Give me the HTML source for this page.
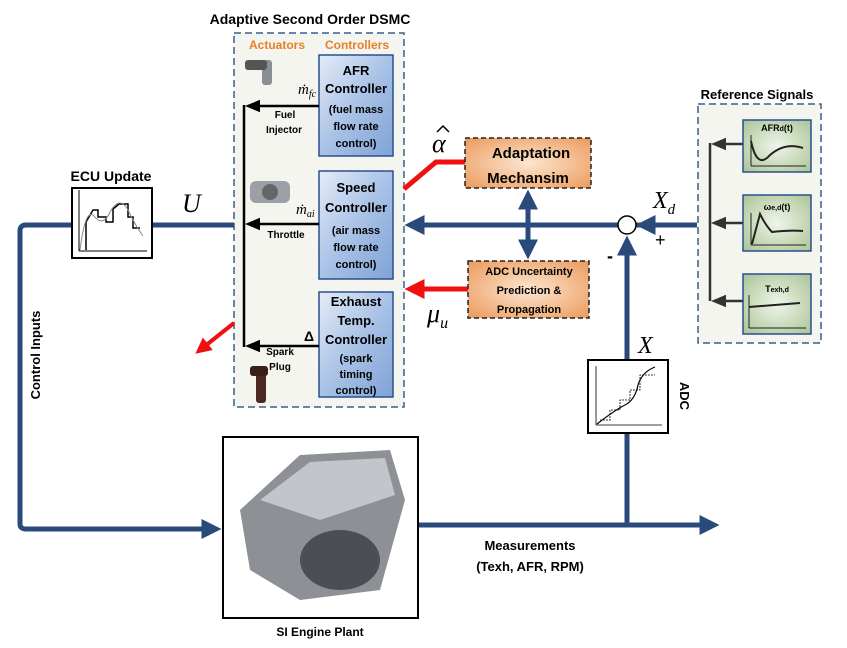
<!DOCTYPE html>
<html><head><meta charset="utf-8"><style>
html,body{margin:0;padding:0;background:#fff;}
svg{display:block;font-family:"Liberation Sans",sans-serif;}
.b{font-weight:bold;}
</style></head><body>
<svg width="847" height="648" viewBox="0 0 847 648" xmlns="http://www.w3.org/2000/svg">
<defs>
<linearGradient id="bl" x1="0" y1="0" x2="1" y2="1"><stop offset="0" stop-color="#e4ecf8"/><stop offset="0.5" stop-color="#a9c2e6"/><stop offset="1" stop-color="#7fa2d6"/></linearGradient>
<radialGradient id="or" cx="0.5" cy="0.5" r="0.7"><stop offset="0" stop-color="#fde6d0"/><stop offset="1" stop-color="#eb9a5c"/></radialGradient>
<radialGradient id="gr" cx="0.5" cy="0.5" r="0.7"><stop offset="0" stop-color="#f0f5ea"/><stop offset="1" stop-color="#a9c494"/></radialGradient>
<marker id="ab" markerWidth="4" markerHeight="4" refX="2.5" refY="2" orient="auto-start-reverse" markerUnits="strokeWidth"><path d="M0,0 L4,2 L0,4 z" fill="#2b4a7c"/></marker>
<marker id="ak" markerWidth="6" markerHeight="6" refX="4" refY="3" orient="auto" markerUnits="strokeWidth"><path d="M0,0.5 L6,3 L0,5.5 z" fill="#000"/></marker>
<marker id="ar" markerWidth="4" markerHeight="4" refX="2.5" refY="2" orient="auto" markerUnits="strokeWidth"><path d="M0,0 L4,2 L0,4 z" fill="#f01010"/></marker>
<marker id="ag" markerWidth="6" markerHeight="6" refX="4" refY="3" orient="auto" markerUnits="strokeWidth"><path d="M0,0.5 L6,3 L0,5.5 z" fill="#333"/></marker>
</defs>

<rect x="234" y="33" width="170" height="374" fill="#f3f5ee" stroke="#3a5f90" stroke-width="1.5" stroke-dasharray="7,4"/>
<text x="310" y="24" class="b" font-size="14" text-anchor="middle">Adaptive Second Order DSMC</text>
<text x="277" y="49" class="b" font-size="12" fill="#e8802a" text-anchor="middle">Actuators</text>
<text x="357" y="49" class="b" font-size="12" fill="#e8802a" text-anchor="middle">Controllers</text>

<g stroke="#2a4f8f" stroke-width="1.5" fill="url(#bl)">
<rect x="319" y="55" width="74" height="101"/>
<rect x="319" y="171" width="74" height="108"/>
<rect x="319" y="292" width="74" height="105"/>
</g>
<g class="b" font-size="13" text-anchor="middle">
<text x="356" y="75">AFR</text><text x="356" y="93">Controller</text>
<text x="356" y="192">Speed</text><text x="356" y="212">Controller</text>
<text x="356" y="306">Exhaust</text><text x="356" y="325">Temp.</text><text x="356" y="344">Controller</text>
</g>
<g class="b" font-size="11" text-anchor="middle">
<text x="356" y="113">(fuel mass</text><text x="356" y="130">flow rate</text><text x="356" y="147">control)</text>
<text x="356" y="234">(air mass</text><text x="356" y="251">flow rate</text><text x="356" y="268">control)</text>
<text x="356" y="362">(spark</text><text x="356" y="378">timing</text><text x="356" y="394">control)</text>
</g>
<line x1="244" y1="105" x2="244" y2="347" stroke="#000" stroke-width="2.5"/>
<g stroke="#000" stroke-width="2.5" marker-end="url(#ak)">
<line x1="319" y1="106" x2="250" y2="106"/>
<line x1="319" y1="224" x2="250" y2="224"/>
<line x1="319" y1="346" x2="250" y2="346"/>
</g>
<g class="b" font-size="10" text-anchor="middle">
<text x="285" y="118">Fuel</text><text x="284" y="133">Injector</text>
<text x="286" y="238">Throttle</text>
<text x="280" y="355">Spark</text><text x="280" y="370">Plug</text>
</g>
<text x="309" y="341" class="b" font-size="14" text-anchor="middle">Δ</text>
<text x="298" y="94" font-family="Liberation Serif" font-style="italic" font-size="15">ṁ<tspan font-size="10" dy="3">fc</tspan></text>
<text x="296" y="214" font-family="Liberation Serif" font-style="italic" font-size="15">ṁ<tspan font-size="10" dy="3">ai</tspan></text>
<g fill="#8a8f96"><rect x="262" y="60" width="10" height="25" rx="3"/><rect x="245" y="60" width="22" height="10" rx="3" fill="#555"/></g>
<rect x="250" y="181" width="40" height="22" rx="6" fill="#9aa0a6"/><circle cx="270" cy="192" r="8" fill="#666"/>
<rect x="256" y="373" width="10" height="30" rx="3" fill="#4a2a22"/><rect x="250" y="366" width="18" height="10" rx="3" fill="#3a2018"/>

<g stroke="#2b4a7c" stroke-width="5" fill="none">
<path d="M697,225 L636,225"/>
<path d="M618,225 L412,225" marker-end="url(#ab)"/>
<path d="M234,225 L152,225"/>
<path d="M72,225 L26,225 Q20,225 20,231 L20,524 Q20,529 26,529 L214,529" marker-end="url(#ab)"/>
<path d="M418,525 L712,525" marker-end="url(#ab)"/>
<path d="M627,525 L627,433"/>
<path d="M627,360 L627,243" marker-end="url(#ab)"/>
<path d="M528,197 L528,252" marker-start="url(#ab)" marker-end="url(#ab)"/>
</g>
<path d="M690,225 L643,225" stroke="#2b4a7c" stroke-width="5" marker-end="url(#ab)"/>
<circle cx="627" cy="225" r="9" fill="#fff" stroke="#000" stroke-width="1.5"/>
<text x="655" y="246" font-size="18">+</text>
<text x="607" y="262" class="b" font-size="18">-</text>
<text x="653" y="208" font-family="Liberation Serif" font-style="italic" font-size="24">X<tspan font-size="15" dy="6">d</tspan></text>
<text x="638" y="353" font-family="Liberation Serif" font-style="italic" font-size="24">X</text>
<text x="182" y="212" font-family="Liberation Serif" font-style="italic" font-size="26">U</text>

<path d="M404,189 L436,162 L466,162" stroke="#f01010" stroke-width="5" fill="none"/>
<path d="M468,289 L412,289" stroke="#f01010" stroke-width="5" marker-end="url(#ar)"/>
<path d="M234,323 L200,350" stroke="#f01010" stroke-width="4" marker-end="url(#ar)"/>
<text x="432" y="152" font-family="Liberation Serif" font-style="italic" font-size="26">α</text>
<path d="M437,132 L443,126 L449,132" stroke="#000" stroke-width="1.5" fill="none"/>
<text x="427" y="322" font-family="Liberation Serif" font-style="italic" font-size="26">μ<tspan font-size="16" dy="6">u</tspan></text>

<rect x="465" y="138" width="126" height="50" fill="url(#or)" stroke="#222" stroke-width="1.5" stroke-dasharray="5,3"/>
<text x="531" y="158" class="b" font-size="15" text-anchor="middle">Adaptation</text>
<text x="528" y="183" class="b" font-size="15" text-anchor="middle">Mechansim</text>
<rect x="468" y="261" width="121" height="57" fill="url(#or)" stroke="#222" stroke-width="1.5" stroke-dasharray="5,3"/>
<text x="529" y="275" class="b" font-size="11" text-anchor="middle">ADC Uncertainty</text>
<text x="529" y="294" class="b" font-size="11" text-anchor="middle">Prediction &amp;</text>
<text x="529" y="313" class="b" font-size="11" text-anchor="middle">Propagation</text>

<text x="757" y="99" class="b" font-size="13" text-anchor="middle">Reference Signals</text>
<rect x="698" y="104" width="123" height="239" fill="#f3f5ee" stroke="#3a5f90" stroke-width="1.5" stroke-dasharray="7,4"/>
<line x1="710" y1="143" x2="710" y2="301" stroke="#333" stroke-width="2.5"/>
<g stroke="#333" stroke-width="2.5" marker-end="url(#ag)">
<line x1="743" y1="144" x2="716" y2="144"/>
<line x1="743" y1="223" x2="716" y2="223"/>
<line x1="743" y1="301" x2="716" y2="301"/>
</g>
<g stroke="#2a4f8f" stroke-width="1.5" fill="url(#gr)">
<rect x="743" y="120" width="68" height="52"/>
<rect x="743" y="195" width="68" height="56"/>
<rect x="743" y="274" width="68" height="60"/>
</g>
<g fill="none" stroke="#222" stroke-width="1">
<path d="M751,166 L806,166 M751,166 L751,135"/><path d="M751,141 Q757,170 770,155 Q785,142 803,148" stroke-width="2"/>
<path d="M751,245 L806,245 M751,245 L751,213"/><path d="M752,244 L760,214 Q766,226 772,232 Q790,230 803,231" stroke-width="2"/>
<path d="M749,328 L806,328 M749,328 L749,295"/><path d="M749,307 L800,303" stroke-width="2"/>
</g>
<text x="777" y="131" class="b" font-size="9" text-anchor="middle">AFR<tspan font-size="7">d</tspan>(t)</text>
<text x="777" y="210" class="b" font-size="9" text-anchor="middle">ω<tspan font-size="7">e,d</tspan>(t)</text>
<text x="777" y="292" class="b" font-size="9" text-anchor="middle">T<tspan font-size="7">exh,d</tspan></text>

<text x="111" y="181" class="b" font-size="14" text-anchor="middle">ECU Update</text>
<rect x="72" y="188" width="80" height="70" fill="#fff" stroke="#000" stroke-width="2"/>
<g fill="none" stroke="#000">
<path d="M79,251 L147,251 M79,251 L79,190" stroke-width="1"/>
<path d="M86,250 L86,222 L93,210 L98,210 L98,217 L106,217 L106,222 L113,222 L113,209 L119,204 L128,204 L128,217 L133,217 L133,228 L140,228" stroke-width="1.5"/>
<path d="M80,250 Q85,210 93,215 Q103,228 110,212 Q120,195 128,210 Q135,225 143,236" stroke="#888"/>
</g>
<text x="40" y="355" class="b" font-size="13" text-anchor="middle" transform="rotate(-90 40 355)">Control Inputs</text>

<rect x="223" y="437" width="195" height="181" fill="#fff" stroke="#000" stroke-width="2"/>
<path d="M240,510 L300,455 L390,450 L405,500 L380,590 L300,600 L250,570 z" fill="#8d9196"/>
<path d="M260,500 L310,462 L385,458 L395,495 L320,520 z" fill="#c2c6cb"/>
<ellipse cx="340" cy="560" rx="40" ry="30" fill="#4b4e52"/>
<text x="320" y="636" class="b" font-size="12" text-anchor="middle">SI Engine Plant</text>
<text x="530" y="550" class="b" font-size="13" text-anchor="middle">Measurements</text>
<text x="530" y="571" class="b" font-size="13" text-anchor="middle">(Texh, AFR, RPM)</text>

<rect x="588" y="360" width="80" height="73" fill="#fff" stroke="#000" stroke-width="2"/>
<g fill="none" stroke="#000" stroke-width="0.8">
<path d="M596,425 L662,425 M596,425 L596,366"/>
<path d="M597,424 Q615,410 625,405 Q635,400 638,385 Q642,372 655,367" stroke-width="1.2"/>
<path d="M600,420 L610,420 L610,410 L620,410 L620,400 L630,400 L630,390 L640,390 L640,375 L655,375" stroke-dasharray="2,1"/>
</g>
<text x="680" y="396" class="b" font-size="13" text-anchor="middle" transform="rotate(90 680 396)">ADC</text>
</svg>
</body></html>
